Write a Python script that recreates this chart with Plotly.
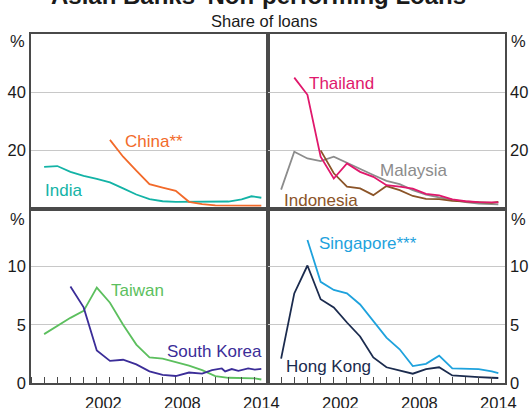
import plotly.graph_objects as go
from plotly.subplots import make_subplots

# ---------------- data (year-end observations, latest mid-2014) ----------------
india_dates = [f"{y}-12-31" for y in range(1997, 2013)] + ["2013-09-30", "2014-06-30"]
india_vals = [14.3, 14.6, 12.6, 11.2, 10.2, 9.0, 6.9, 4.8, 3.2, 2.5, 2.3, 2.3, 2.3, 2.2, 2.4, 3.1, 4.2, 3.7]

china_dates = [f"{y}-12-31" for y in range(2002, 2014)] + ["2014-06-30"]
china_vals = [23.6, 17.8, 13.0, 8.4, 7.2, 6.1, 2.3, 1.5, 1.1, 1.0, 0.95, 1.0, 1.0]

thailand_dates = [f"{y}-12-31" for y in range(1998, 2014)] + ["2014-06-30"]
thailand_vals = [45.0, 39.1, 17.8, 10.3, 15.5, 12.6, 10.9, 8.0, 7.5, 6.8, 5.0, 4.5, 3.1, 2.5, 2.2, 2.1, 2.1]

malaysia_dates = [f"{y}-12-31" for y in range(1997, 2014)] + ["2014-06-30"]
malaysia_vals = [6.5, 19.5, 17.2, 16.3, 17.8, 15.7, 13.4, 11.5, 9.5, 8.4, 6.3, 4.8, 3.8, 2.9, 2.2, 1.7, 1.5, 1.4]

indonesia_dates = [f"{y}-12-31" for y in range(2000, 2014)] + ["2014-06-30"]
indonesia_vals = [20.0, 12.1, 7.5, 6.9, 4.6, 7.7, 6.3, 4.3, 3.3, 3.2, 2.6, 2.3, 2.0, 1.9, 2.3]

taiwan_dates = [f"{y}-12-31" for y in range(1997, 2014)] + ["2014-06-30"]
taiwan_vals = [4.2, 4.9, 5.6, 6.2, 8.2, 6.9, 5.0, 3.3, 2.2, 2.1, 1.8, 1.5, 1.1, 0.6, 0.45, 0.45, 0.4, 0.3]

korea_dates = [f"{y}-12-31" for y in range(1999, 2010)] + [
    "2010-09-30", "2011-06-30", "2011-09-30", "2012-03-31", "2012-09-30",
    "2013-06-30", "2013-12-31", "2014-06-30"]
korea_vals = [8.3, 6.5, 2.8, 1.9, 2.0, 1.6, 1.0, 0.7, 0.6, 0.9, 0.8,
              1.1, 1.25, 1.0, 1.2, 1.05, 1.25, 1.15, 1.22]

singapore_dates = [f"{y}-12-31" for y in range(1999, 2014)] + ["2014-06-30"]
singapore_vals = [12.3, 8.7, 8.0, 7.7, 6.75, 5.3, 3.9, 2.9, 1.45, 1.65, 2.35, 1.25, 1.25, 1.2, 1.0, 0.85]

hongkong_dates = [f"{y}-12-31" for y in range(1997, 2014)] + ["2014-06-30"]
hongkong_vals = [2.1, 7.7, 10.1, 7.2, 6.5, 5.2, 4.0, 2.2, 1.35, 1.1, 0.8, 1.2, 1.35, 0.65, 0.55, 0.5, 0.45, 0.43]

year_tick_vals = ["2002-07-02", "2008-07-02", "2014-07-02"]
year_tick_text = ["2002", "2008", "2014"]

top_ticks = [20, 40]
bottom_ticks = [0, 5, 10]

# ---------------- styling ----------------
FONT = "Arial, 'Liberation Sans', sans-serif"
TXT = "#1a1a1a"
BORDER = "#4a4a4a"
GRID = "#c8c8c8"
TICK_SIZE = 16.5
LABEL_SIZE = 17

C_INDIA = "#13b3a6"
C_CHINA = "#f26a2a"
C_THAI = "#e0186c"
C_MALAY = "#8c8c8c"
C_INDO = "#8b5428"
C_TAIWAN = "#5cbf5e"
C_KOREA = "#3b2d98"
C_SING = "#1ea2dd"
C_HK = "#1b2b4e"

fig = make_subplots(rows=2, cols=2, horizontal_spacing=0, vertical_spacing=0)

def add(dates, vals, color, row, col):
    fig.add_trace(go.Scatter(x=dates, y=vals, mode="lines",
                             line=dict(color=color, width=1.8),
                             showlegend=False, hoverinfo="skip"),
                  row=row, col=col)

add(india_dates, india_vals, C_INDIA, 1, 1)
add(china_dates, china_vals, C_CHINA, 1, 1)
add(malaysia_dates, malaysia_vals, C_MALAY, 1, 2)
add(indonesia_dates, indonesia_vals, C_INDO, 1, 2)
add(thailand_dates, thailand_vals, C_THAI, 1, 2)
add(taiwan_dates, taiwan_vals, C_TAIWAN, 2, 1)
add(korea_dates, korea_vals, C_KOREA, 2, 1)
add(hongkong_dates, hongkong_vals, C_HK, 2, 2)
add(singapore_dates, singapore_vals, C_SING, 2, 2)

xcommon = dict(type="date", range=["1997-01-01", "2015-01-01"], showline=True,
               mirror=True, linecolor=BORDER, linewidth=1.5, showgrid=False,
               zeroline=False, fixedrange=True, automargin=False)
for ax in ["xaxis", "xaxis2"]:
    fig.layout[ax].update(**xcommon, showticklabels=False, ticks="")
for ax in ["xaxis3", "xaxis4"]:
    fig.layout[ax].update(**xcommon, tickmode="array", tickvals=year_tick_vals,
                          ticktext=year_tick_text, ticks="outside", ticklen=4,
                          tickcolor="rgba(0,0,0,0)",
                          tickfont=dict(family=FONT, size=TICK_SIZE, color=TXT),
                          minor=dict(ticks="inside", ticklen=6, tickwidth=1,
                                     tickcolor=BORDER, dtick="M12",
                                     tick0="1997-01-01", showgrid=False))

ycommon = dict(showline=True, mirror=True, linecolor=BORDER, linewidth=1.5,
               showgrid=True, gridcolor=GRID, gridwidth=1, zeroline=False,
               ticks="", tickfont=dict(family=FONT, size=TICK_SIZE, color=TXT),
               fixedrange=True, automargin=False)
fig.layout.yaxis.update(**ycommon, range=[0, 60], tickvals=top_ticks, side="left")
fig.layout.yaxis2.update(**ycommon, range=[0, 60], tickvals=top_ticks, side="right")
fig.layout.yaxis3.update(**ycommon, range=[0, 15], tickvals=bottom_ticks, side="left")
fig.layout.yaxis4.update(**ycommon, range=[0, 15], tickvals=bottom_ticks, side="right")

ann = []
def label(text, x, y, color, xref, yref):
    ann.append(dict(text=text, x=x, y=y, xref=xref, yref=yref, showarrow=False,
                    xanchor="center", yanchor="middle",
                    font=dict(family=FONT, size=LABEL_SIZE, color=color)))

label("India", "1999-06-15", 6.3, C_INDIA, "x", "y")
label("China**", "2006-05-01", 23.2, C_CHINA, "x", "y")
label("Thailand", "2002-08-01", 42.9, C_THAI, "x2", "y2")
label("Malaysia", "2008-01-20", 13.2, C_MALAY, "x2", "y2")
label("Indonesia", "2001-01-20", 2.9, C_INDO, "x2", "y2")
label("Taiwan", "2005-02-15", 7.96, C_TAIWAN, "x3", "y3")
label("South Korea", "2010-11-25", 2.7, C_KOREA, "x3", "y3")
label("Singapore***", "2004-07-25", 12.0, C_SING, "x4", "y4")
label("Hong Kong", "2001-08-10", 1.43, C_HK, "x4", "y4")

# percent unit labels
for yref, yv in [("y", 57.5), ("y3", 14.1)]:
    ann.append(dict(text="%", x=-0.008, y=yv, xref="paper", yref=yref,
                    xanchor="right", yanchor="middle", showarrow=False,
                    font=dict(family=FONT, size=TICK_SIZE, color=TXT)))
for yref, yv in [("y2", 57.5), ("y4", 14.1)]:
    ann.append(dict(text="%", x=1.008, y=yv, xref="paper", yref=yref,
                    xanchor="left", yanchor="middle", showarrow=False,
                    font=dict(family=FONT, size=TICK_SIZE, color=TXT)))

# title (cropped at the top edge, as in the original) and subtitle
ann.append(dict(text="<b>Asian Banks' Non-performing Loans</b>", x=0.479, y=1.067,
                xref="paper", yref="paper", xanchor="center", yanchor="bottom",
                showarrow=False, font=dict(family=FONT, size=24, color=TXT)))
ann.append(dict(text="Share of loans", x=0.492, y=1.037, xref="paper", yref="paper",
                xanchor="center", yanchor="middle", showarrow=False,
                font=dict(family=FONT, size=16.5, color=TXT)))

fig.update_layout(
    width=531, height=408,
    margin=dict(l=31, r=26, t=34, b=25, pad=0, autoexpand=False),
    paper_bgcolor="white", plot_bgcolor="white",
    annotations=ann, showlegend=False,
    font=dict(family=FONT, color=TXT),
)

# remove the default 8px page margin so the figure sits at the window's corner
fig.write_html("out.html", config={"displayModeBar": False},
               post_script="document.body.style.margin='0px';")
